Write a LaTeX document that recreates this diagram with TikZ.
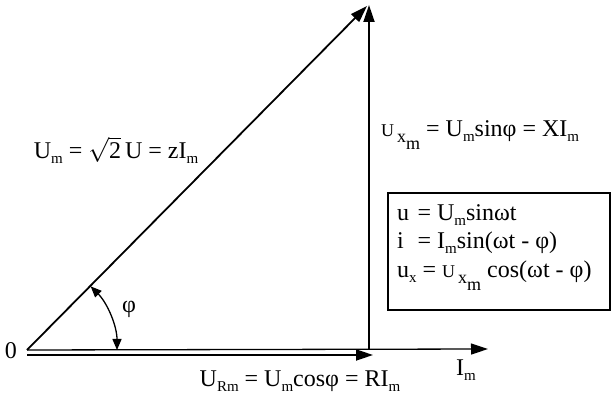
\documentclass[tikz,border=0pt]{standalone}
\usepackage{fontspec}
\setmainfont{Liberation Serif}
\usetikzlibrary{arrows.meta}
\newcommand{\sbs}[1]{\raisebox{-0.2em}{\fontsize{15}{15}\selectfont #1}}
\newcommand{\Uxm}{{\fontsize{18}{18}\selectfont U\,\raisebox{-0.3em}{x\raisebox{-0.4em}{m}}}}
\begin{document}
\begin{tikzpicture}[x=1pt,y=1pt, font=\fontsize{24}{28}\selectfont,
  vec/.style={line width=1.8pt,-{Triangle[length=17pt,width=11pt]}},
  thinvec/.style={line width=1.3pt,-{Triangle[length=17pt,width=11pt]}},
  angarrow/.style={line width=1.3pt,{Triangle[length=11pt,width=9pt]}-{Triangle[length=11pt,width=9pt]}},
  lbl/.style={inner sep=0pt},
  boxline/.style={inner sep=0pt, anchor=base west}]
\useasboundingbox (0,0) rectangle (611,396);
\coordinate (O) at (27,46);
\coordinate (Olow) at (27,41);
\coordinate (Im) at (488,47);
\coordinate (URm) at (373,41);
\coordinate (Vb) at (369,47);
\coordinate (Vt) at (369,391);
\coordinate (Ht) at (367,390);
% vectors
\draw[thinvec] (O) -- (Im);
\draw[vec] (Olow) -- (URm);
\draw[vec] (Vb) -- (Vt);
\draw[vec] (O) -- (Ht);
% angle
\draw[angarrow] (O) ++(45:90) arc[start angle=45, end angle=0, radius=90];
% labels
\node[lbl] (phi) at (129,87) {φ};
\node[lbl] (zero) at (11,45) {0};
\node[lbl, anchor=base] (lUm) at (116,237) {U\sbs{m} = $\sqrt{\mbox{2}}$\,U = zI\sbs{m}};
\node[lbl, anchor=base west] (lUx) at (381,259) {\Uxm\ = U\sbs{m}sinφ = XI\sbs{m}};
\node[lbl, anchor=base] (lURm) at (300,9) {U\sbs{Rm} = U\sbs{m}cosφ = RI\sbs{m}};
\node[lbl, anchor=base] (lIm) at (466,20) {I\sbs{m}};
% box
\draw[line width=1.5pt] (388,86) rectangle (610,203);
\node[boxline] (b1) at (397,175) {\makebox[0.85em][l]{u}= U\sbs{m}sinωt};
\node[boxline] (b2) at (397,147) {\makebox[0.85em][l]{i}= I\sbs{m}sin(ωt - φ)};
\node[boxline] (b3) at (397,118) {u\sbs{x} = \Uxm\ cos(ωt - φ)};
\end{tikzpicture}
\end{document}
